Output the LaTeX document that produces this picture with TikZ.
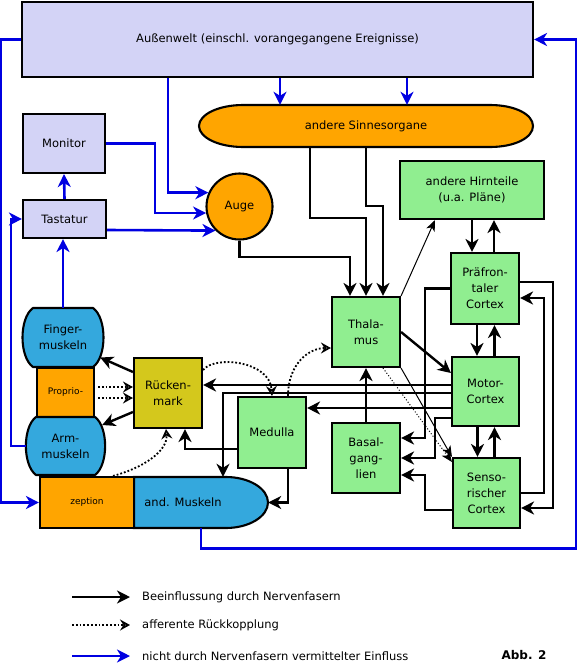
\documentclass[tikz,border=0pt]{standalone}
\usepackage{fontspec}
\setmainfont{DejaVu Sans}
\usetikzlibrary{arrows.meta}

\definecolor{lavendel}{RGB}{211,211,246}
\definecolor{sinnorange}{RGB}{255,165,0}
\definecolor{hirngruen}{RGB}{144,238,144}
\definecolor{muskelblau}{RGB}{52,168,221}
\definecolor{markgelb}{RGB}{212,200,28}
\definecolor{einflussblau}{RGB}{0,0,225}

\begin{document}
\begin{tikzpicture}[x=1pt,y=-1pt,
  every node/.style={font=\fontsize{11.5}{16}\selectfont,align=center,inner sep=0pt},
  feld/.style={draw,line width=2.1pt,minimum width=68pt,minimum height=70pt},
  hirn/.style={feld,fill=hirngruen},
  umriss/.style={draw,line width=2.1pt},
  nerv/.style={line width=2.4pt,-{Stealth[length=13pt,width=13pt,inset=4pt]}},
  duenn/.style={line width=1pt,-{Stealth[length=11pt,width=9pt,inset=3pt]}},
  rueck/.style={line width=1.8pt,dotted,-{Stealth[open,length=10pt,width=11pt,inset=3.5pt]}},
  blau/.style={line width=2.6pt,einflussblau,-{Stealth[length=13pt,width=13pt,inset=4pt]}}]
\useasboundingbox (0,0) rectangle (578,664);

% Umwelt und Sinne
\node[feld,fill=lavendel,minimum width=511pt,minimum height=75pt] (welt) at (277.5,39.5) {Außenwelt (einschl. vorangegangene Ereignisse)};
\node[feld,fill=lavendel,minimum width=82pt,minimum height=59pt] (monitor) at (64,143.5) {Monitor};
\node[feld,fill=lavendel,minimum width=83pt,minimum height=38pt] (tastatur) at (64.5,219) {Tastatur};
\node[draw,circle,line width=2.1pt,fill=sinnorange,minimum size=66pt] (auge) at (239.5,206.5) {Auge};
\draw[umriss,fill=sinnorange] (243,105) -- (490,105) .. controls (515,105) and (533,114.4) .. (533,126)
  .. controls (533,137.6) and (515,147) .. (490,147) -- (243,147)
  .. controls (218.7,147) and (199,137.6) .. (199,126) .. controls (199,114.4) and (218.7,105) .. (243,105) -- cycle;
\node[minimum width=334pt,minimum height=42pt] (sinne) at (366,126) {andere Sinnesorgane};

% Hirn
\node[hirn,minimum width=144pt,minimum height=58pt] (hirnteile) at (472,190) {andere Hirnteile\\(u.a. Pläne)};
\node[hirn] (thalamus) at (366,332) {Thala-\\mus};
\node[hirn,minimum height=71pt] (praefrontal) at (485,288.5) {Präfron-\\taler\\Cortex};
\node[hirn,minimum width=67pt,minimum height=69pt] (motor) at (485.5,391.5) {Motor-\\Cortex};
\node[hirn,minimum width=67pt] (senso) at (486.5,493) {Senso-\\rischer\\Cortex};
\node[hirn] (basal) at (366,458) {Basal-\\gang-\\lien};
\node[hirn,minimum height=71pt] (medulla) at (272,432.5) {Medulla};
\node[feld,fill=markgelb] (rueckenmark) at (168,393) {Rücken-\\mark};

% Muskeln
\node[feld,fill=sinnorange,minimum width=57pt,minimum height=49pt,font=\fontsize{9}{11}\selectfont] (proprio) at (65.5,392.5) {Proprio-};
\draw[umriss,fill=muskelblau] (33,308) -- (93,308) .. controls (107,318) and (107,357) .. (93,367)
  -- (33,367) .. controls (19,357) and (19,318) .. (33,308) -- cycle;
\node[minimum width=80pt,minimum height=59pt] (finger) at (63,337.5) {Finger-\\muskeln};
\draw[umriss,fill=muskelblau] (36,417) -- (95,417) .. controls (108.5,427) and (108.5,465) .. (95,475)
  -- (36,475) .. controls (22.5,465) and (22.5,427) .. (36,417) -- cycle;
\node[minimum width=79pt,minimum height=58pt] (arm) at (65.5,446) {Arm-\\muskeln};
\draw[umriss,fill=muskelblau] (134,477) -- (226,477) .. controls (249,477) and (268,488.5) .. (268,502.5)
  .. controls (268,516.5) and (249,528) .. (226,528) -- (134,528) -- cycle;
\node[minimum width=134pt,minimum height=51pt] (andmuskeln) at (201,502.5) {};
\node (andtext) at (183,502.5) {and. Muskeln};
\node[feld,fill=sinnorange,minimum width=94pt,minimum height=51pt,font=\fontsize{9}{11}\selectfont] (zeption) at (87,502.5) {zeption};

% nicht nervoese Einfluesse
\draw[blau] (welt.west) -- ++(-20,0) |- (zeption.west);
\draw[blau] (andmuskeln.south) -- ++(0,20) -| ([xshift=42pt]welt.east) -- (welt.east);
\draw[blau] ([xshift=2.5pt]welt.south) -- ([xshift=2.5pt]welt.south |- sinne.north);
\draw[blau] ([xshift=129.5pt]welt.south) -- ([xshift=129.5pt]welt.south |- sinne.north);
\draw[blau] ([xshift=-109.5pt]welt.south) |- (auge.156);
\draw[blau] (monitor.east) -- ++(49,0) |- (auge.191);
\draw[blau] ([yshift=-11pt]tastatur.east) -- (auge.225);
\draw[blau] (tastatur.north) -- (monitor.south);
\draw[blau] (finger.north) -- (finger.north |- tastatur.south);
\draw[blau] (arm.west) -- ++(-15,0) |- (tastatur.west);

% Nervenfasern
\draw[nerv] ([xshift=-56pt]sinne.south) -- ++(0,71) -| (thalamus.north);
\draw[nerv] (sinne.south) -- ++(0,59) -| ([xshift=17pt]thalamus.north);
\draw[nerv] (auge.south) -- ++(0,16.5) -| ([xshift=-16pt]thalamus.north);
\draw[duenn] (thalamus.north east) -- ([xshift=-37pt]hirnteile.south);
\draw[nerv] (hirnteile.south) -- (hirnteile.south |- praefrontal.north);
\draw[nerv] ([xshift=9pt]praefrontal.north) -- ([xshift=9pt]praefrontal.north |- hirnteile.south);
\draw[nerv] ([xshift=-8pt]praefrontal.south) -- ([xshift=-8pt]praefrontal.south |- motor.north);
\draw[nerv] ([xshift=9pt]motor.north) -- ([xshift=9pt]motor.north |- praefrontal.south);
\draw[nerv] ([xshift=-8pt]motor.south) -- ([xshift=-8pt]motor.south |- senso.north);
\draw[nerv] ([xshift=8pt]senso.north) -- ([xshift=8pt]senso.north |- motor.south);
\draw[nerv] (thalamus.east) -- ([yshift=18.5pt]motor.west);
\draw[duenn] (thalamus.south east) -- (senso.north west);
\draw[duenn,dotted] ([xshift=17pt]thalamus.south) -- ([yshift=31pt]senso.west);
\draw[nerv] ([yshift=6.5pt]praefrontal.east) -- ++(33,0) |- ([yshift=-15pt]senso.east);
\draw[nerv] (senso.east) -- ++(23,0) |- ([yshift=-9.5pt]praefrontal.east);
\draw[nerv] (praefrontal.west) -- ++(-25,0) |- ([yshift=20pt]basal.east);
\draw[nerv] ([yshift=-26.5pt]motor.west) -- ++(-16,0) |- (basal.east);
\draw[nerv] ([yshift=-17pt]senso.west) -- ++(-27,0) |- ([yshift=-17pt]basal.east);
\draw[nerv] (basal.north) -- (thalamus.south);
\draw[nerv] ([yshift=6.5pt]motor.west) -- ([yshift=6.5pt]motor.west -| rueckenmark.east);
\draw[nerv] ([yshift=-1.5pt]motor.west) -| ([xshift=22pt]andmuskeln.north);
\draw[nerv] ([yshift=-16.5pt]motor.west) -- ([yshift=-16.5pt]motor.west -| medulla.east);
\draw[nerv] ([yshift=-16.5pt]medulla.west) -| ([xshift=17pt]rueckenmark.south);
\draw[nerv] ([xshift=16pt]medulla.south) |- (andmuskeln.east);
\draw[nerv] ([yshift=21pt]rueckenmark.west) -- ([xshift=-3pt,yshift=-20pt]finger.east);
\draw[nerv] ([yshift=-19pt]rueckenmark.west) -- ([xshift=-3pt,yshift=21pt]arm.east);

% afferente Rueckkopplung
\draw[rueck] ([xshift=3pt,yshift=5.5pt]proprio.east) -- ([yshift=5.5pt]proprio.east -| rueckenmark.west);
\draw[rueck] ([xshift=3pt,yshift=-5.5pt]proprio.east) -- ([yshift=-5.5pt]proprio.east -| rueckenmark.west);
\draw[rueck] ([yshift=23pt]rueckenmark.east) .. controls +(12,-15) and +(-2,-35) .. (medulla.north);
\draw[rueck] ([xshift=16pt]medulla.north) .. controls +(0,-32) and +(-22,0) .. ([yshift=-16pt]thalamus.west);
\draw[rueck] ([xshift=26pt]zeption.north) .. controls +(30,-8) and +(2,22) .. ([xshift=-2pt]rueckenmark.south);

% Legende
\node[anchor=west] (leg1) at (142,597) {Beeinflussung durch Nervenfasern};
\node[anchor=west] (leg2) at (142,625) {afferente Rückkopplung};
\node[anchor=west] (leg3) at (142,656) {nicht durch Nervenfasern vermittelter Einfluss};
\coordinate (l1) at (72,597);
\coordinate (l2) at (72,625);
\coordinate (l3) at (72,656);
\draw[nerv] (l1) -- ([xshift=-12pt]leg1.west);
\draw[rueck] (l2) -- ([xshift=-12pt]leg2.west);
\draw[blau] (l3) -- ([xshift=-12pt]leg3.west);
\node[font=\bfseries\fontsize{12}{14}\selectfont] (abb) at (524,655) {Abb. 2};
\end{tikzpicture}
\end{document}
